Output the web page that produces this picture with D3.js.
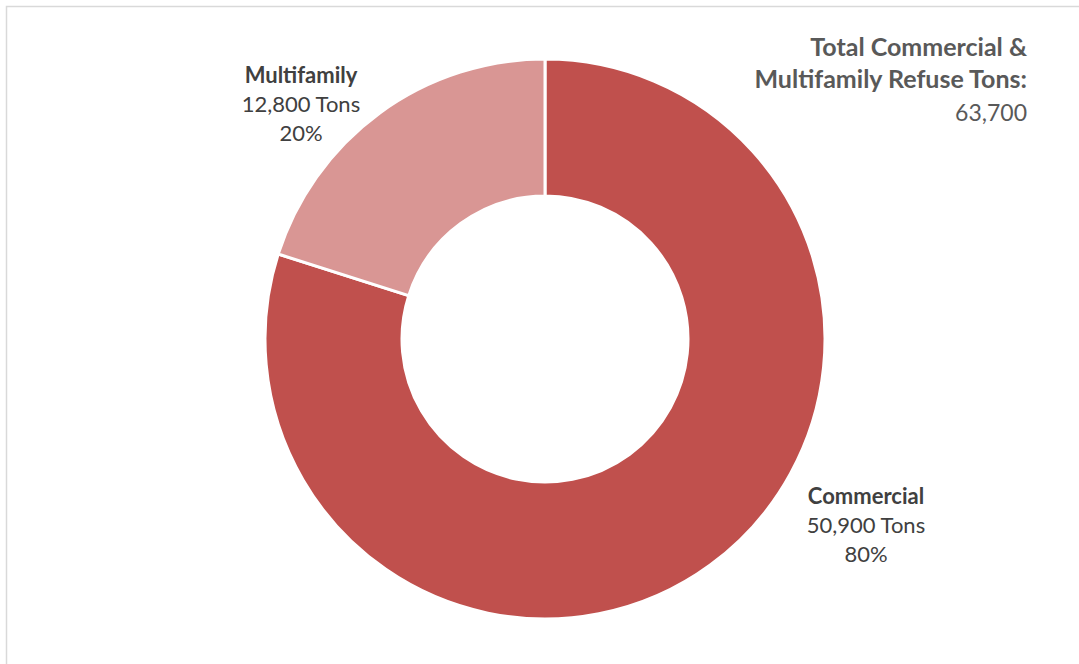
<!DOCTYPE html>
<html>
<head>
<meta charset="utf-8">
<script src="https://cdn.jsdelivr.net/npm/d3@7"></script>
<style>
  html, body { margin: 0; padding: 0; background: #fff; }
  svg { display: block; }
</style>
</head>
<body>
<svg id="chart" width="1079" height="664"></svg>
<script>
// Refuse tonnage by sector
const categories = ["Commercial", "Multifamily"];
const tons = [50900, 12800];
const percentLabels = ["80%", "20%"];
const totalTons = 63700;
const colors = ["#C0504D", "#D99694"];

const svg = d3.select("#chart");
const W = 1079, H = 664;

// chart frame
svg.append("rect")
  .attr("x", 6.5).attr("y", 6.5)
  .attr("width", W + 10).attr("height", H + 10)
  .attr("fill", "#fff")
  .attr("stroke", "#d9d9d9")
  .attr("stroke-width", 1.5);

const cx = 545, cy = 339;
const outerR = 280, innerR = 143;

const data = categories.map((c, i) => ({ name: c, value: tons[i], pct: percentLabels[i], color: colors[i] }));

const pie = d3.pie().value(d => d.value).sort(null);
const arc = d3.arc().innerRadius(innerR).outerRadius(outerR);

const g = svg.append("g").attr("transform", `translate(${cx},${cy})`);
g.selectAll("path")
  .data(pie(data))
  .join("path")
  .attr("d", arc)
  .attr("fill", d => d.data.color)
  .attr("stroke", "#fff")
  .attr("stroke-width", 3)
  .attr("stroke-linejoin", "miter");

const fmt = d3.format(",");
const font = "Lato, 'Open Sans', sans-serif";

// data labels
const labelPos = { Commercial: [866, 504], Multifamily: [301, 83] };
data.forEach(d => {
  const [x, y] = labelPos[d.name];
  const t = svg.append("text")
    .attr("x", x).attr("y", y)
    .attr("text-anchor", "middle")
    .attr("font-family", font)
    .attr("font-size", 22)
    .attr("fill", "#404040");
  t.append("tspan").attr("x", x).attr("font-weight", 700).text(d.name);
  t.append("tspan").attr("x", x).attr("dy", 29).text(`${fmt(d.value)} Tons`);
  t.append("tspan").attr("x", x).attr("dy", 29).text(d.pct);
});

// total annotation
const tx = 1027;
const tt = svg.append("text")
  .attr("x", tx).attr("y", 56)
  .attr("text-anchor", "end")
  .attr("font-family", font)
  .attr("font-size", 25)
  .attr("fill", "#595959");
tt.append("tspan").attr("x", tx).attr("font-weight", 700).text("Total Commercial &");
tt.append("tspan").attr("x", tx).attr("dy", 32).attr("font-weight", 700).text("Multifamily Refuse Tons:");
tt.append("tspan").attr("x", tx).attr("dy", 33).attr("font-size", 23).text(fmt(totalTons));
</script>
</body>
</html>
